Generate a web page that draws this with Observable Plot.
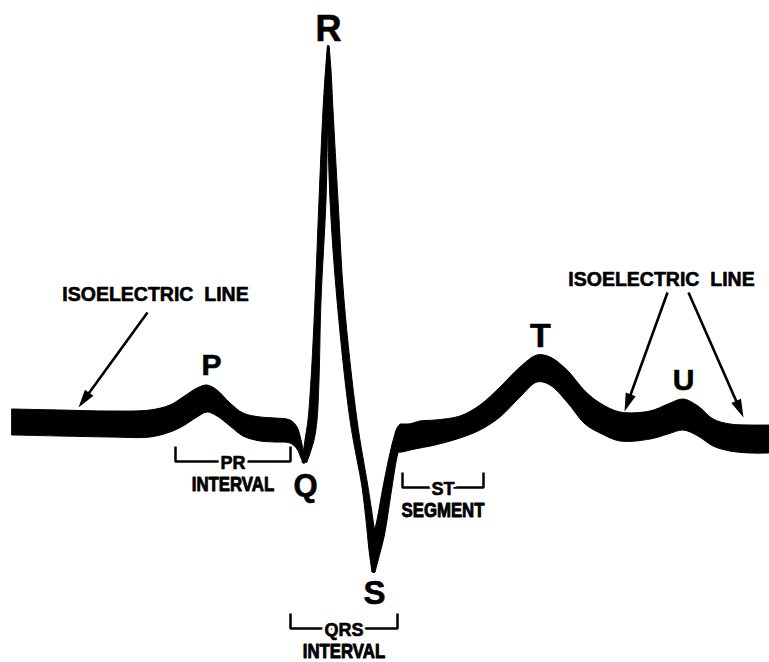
<!DOCTYPE html>
<html>
<head>
<meta charset="utf-8">
<script src="https://cdn.jsdelivr.net/npm/d3@7"></script>
<script src="https://cdn.jsdelivr.net/npm/@observablehq/plot@0.6"></script>
<style>
  html, body { margin: 0; padding: 0; background: #ffffff; }
  #chart svg { display: block; }
</style>
</head>
<body>
<div id="chart"></div>
<script>
// ---- Trace: time (t) and amplitude (a), isoelectric level ≈ 0 ----
// Left part of the trace (isoelectric line, P wave, PR segment, into Q): upper / lower edge of the thick trace
const leftT     = [12, 60, 110, 150, 170, 183, 197, 207, 217, 230, 243, 260, 275, 290, 297, 301, 304];
const leftUpper = [13, 12, 11, 12, 17, 25, 34, 37, 32, 19, 9, 5, 4, 2, -5, -18, -33];
const leftLower = [-13, -14, -15, -15, -10, -4, 5, 10, 6, -4, -14, -19, -20, -21, -27, -36, -42];

// Q -> R upstroke (by amplitude: left and right edge in time)
const qrAmp   = [-40, -18, 2, 42, 122, 222, 312, 352, 376];
const qrLeft  = [302, 305, 308, 311, 315, 319, 323, 325.5, 327.5];
const qrRight = [307, 314, 317, 319, 321, 326, 328, 330, 329];

// R -> S downstroke
const rsAmp   = [376, 352, 312, 222, 122, 2, -65, -98, -128, -150];
const rsLeft  = [327.5, 326.5, 327.5, 330, 337, 350, 362, 366, 369, 372];
const rsRight = [329, 331, 333, 338, 344, 357, 368, 373, 377, 375];

// S -> ST upstroke
const sAmp   = [-150, -131, -115, -98, -65, -31, -15, -6, -2];
const sLeft  = [372.5, 371, 373, 377, 383, 390, 394, 397, 400];
const sRight = [375, 380, 384, 387, 392, 398, 404, 411, 415];

// Right part of the trace (ST segment, T wave, U wave, isoelectric line)
const rightT     = [396, 402, 410, 420, 435, 460, 480, 500, 520, 537, 550, 567, 585, 600, 620, 650, 668, 683, 698, 713, 730, 750, 769];
const rightUpper = [-10, -4, -2, 1, 2, 6, 17, 35, 55, 67, 65, 52, 31, 19, 10, 11, 18, 23, 16, 3, -2, -3, -3];
const rightLower = [-30, -30, -28, -26, -23, -16, -8, 5, 25, 40, 37, 20, -2, -11, -19, -17, -12, -8, -14, -24, -29, -31, -31];

// Wave letters
const waveNames = ["P", "Q", "R", "S", "T", "U"];
const waveT     = [211, 305, 328, 374, 540, 683];
const waveA     = [48, -73, 382, -181, 76, 33];

// "ISOELECTRIC LINE" labels and their arrows
const isoText = ["ISOELECTRIC\u00a0 LINE", "ISOELECTRIC\u00a0 LINE"];
const isoT    = [155, 661];
const isoA    = [122, 137];
const arrowFromT = [147, 667, 688];
const arrowFromA = [110, 130, 130];
const arrowToT   = [78, 624, 743];
const arrowToA   = [15, 11, 5];

// Interval brackets
const bracketLabel = ["PR", "ST", "QRS"];
const bracketSub   = ["INTERVAL", "SEGMENT", "INTERVAL"];
const bracketStart = [175, 402, 290];
const bracketEnd   = [290, 483, 397];
const bracketLevel = [-39, -65, -206];

// ---- Build tables ----
const leftData  = leftT.map((t, i) => ({t, upper: leftUpper[i], lower: leftLower[i]}));
const rightData = rightT.map((t, i) => ({t, upper: rightUpper[i], lower: rightLower[i]}));
const qrData = qrAmp.map((a, i) => ({a, l: qrLeft[i], r: qrRight[i]}));
const rsData = rsAmp.map((a, i) => ({a, l: rsLeft[i], r: rsRight[i]}));
const sData  = sAmp.map((a, i) => ({a, l: sLeft[i], r: sRight[i]}));
const waves = waveNames.map((name, i) => ({name, t: waveT[i], a: waveA[i]}));
const isoLabels = isoText.map((text, i) => ({text, t: isoT[i], a: isoA[i]}));
const arrows = arrowFromT.map((t1, i) => {
  const t2 = arrowToT[i], a1 = arrowFromA[i], a2 = arrowToA[i];
  const len = Math.hypot(t2 - t1, a2 - a1);
  const back = 8 / len;
  return {t1, a1, t2, a2,
          tEnd: t2 - (t2 - t1) * back, aEnd: a2 - (a2 - a1) * back,
          rotate: Math.atan2(t2 - t1, a2 - a1) * 180 / Math.PI};
});
const brackets = bracketLabel.map((label, i) => ({
  label, sub: bracketSub[i], start: bracketStart[i], end: bracketEnd[i], level: bracketLevel[i],
  mid: (bracketStart[i] + bracketEnd[i]) / 2
}));
const tick = 15;
const bracketPts = brackets.flatMap((b, i) => [
  {id: i, t: b.start, a: b.level + tick},
  {id: i, t: b.start, a: b.level},
  {id: i, t: b.end, a: b.level},
  {id: i, t: b.end, a: b.level + tick}
]);

// Narrow arrowhead symbol, tip at origin pointing up
const headSymbol = {
  draw(context, size) {
    const r = Math.sqrt(size / Math.PI);
    const L = 2.6 * r, w = 0.75 * r;
    context.moveTo(0, 0);
    context.lineTo(w, L);
    context.lineTo(-w, L);
    context.closePath();
  }
};

const sansBold = "'Liberation Sans', Arial, Helvetica, sans-serif";
const waveSize = {P: 30, Q: 31, R: 36, S: 33, T: 34, U: 30};
const ink = {fill: "black", stroke: "black", strokeWidth: 0.6, fontFamily: sansBold, fontWeight: "bold"};

const chart = Plot.plot({
  width: 769,
  height: 662,
  margin: 0,
  x: {domain: [0, 769], axis: null},
  y: {domain: [-240, 422], axis: null},
  style: {background: "#ffffff"},
  marks: [
    // thick trace
    Plot.areaY(leftData, {x: "t", y1: "lower", y2: "upper", curve: "catmull-rom", fill: "black", stroke: "black", strokeWidth: 1}),
    Plot.areaY(rightData, {x: "t", y1: "lower", y2: "upper", curve: "catmull-rom", fill: "black", stroke: "black", strokeWidth: 1}),
    Plot.areaX(qrData, {y: "a", x1: "l", x2: "r", curve: "catmull-rom", fill: "black", stroke: "black", strokeWidth: 1}),
    Plot.areaX(rsData, {y: "a", x1: "l", x2: "r", curve: "catmull-rom", fill: "black", stroke: "black", strokeWidth: 1}),
    Plot.areaX(sData, {y: "a", x1: "l", x2: "r", curve: "catmull-rom", fill: "black", stroke: "black", strokeWidth: 1}),
    // brackets
    Plot.line(bracketPts, {x: "t", y: "a", z: "id", stroke: "black", strokeWidth: 2.5, strokeLinejoin: "miter", strokeLinecap: "butt"}),
    Plot.text(brackets, {x: "mid", y: "level", text: "label", dy: 2, lineAnchor: "middle",
      fontFamily: sansBold, fontWeight: "bold", fontSize: 18, fill: "white", stroke: "white", strokeWidth: 6}),
    Plot.text(brackets, {x: "mid", y: "level", text: "label", dy: 2, lineAnchor: "middle", fontSize: 18, ...ink}),
    Plot.text(brackets, {x: "mid", y: "level", text: "sub", dy: 29, lineAnchor: "bottom",
      fontSize: 20, ...ink, strokeWidth: 0.9, className: "narrow-sub"}),
    // arrows
    Plot.link(arrows, {x1: "t1", y1: "a1", x2: "tEnd", y2: "aEnd", stroke: "black", strokeWidth: 2.6}),
    Plot.dot(arrows, {x: "t2", y: "a2", rotate: "rotate", symbol: headSymbol, r: 7, fill: "black", stroke: "none"}),
    // labels
    Plot.text(isoLabels, {x: "t", y: "a", text: "text", lineAnchor: "bottom", fontSize: 19.5, ...ink}),
    Plot.text(waves, {x: "t", y: "a", text: "name", lineAnchor: "bottom",
      fontSize: d => waveSize[d.name], ...ink})
  ]
});
// condensed look for INTERVAL / SEGMENT
d3.select(chart).selectAll(".narrow-sub text").attr("transform", function () {
  return (this.getAttribute("transform") || "") + " scale(0.84,1)";
});
document.getElementById("chart").appendChild(chart);
</script>
</body>
</html>
